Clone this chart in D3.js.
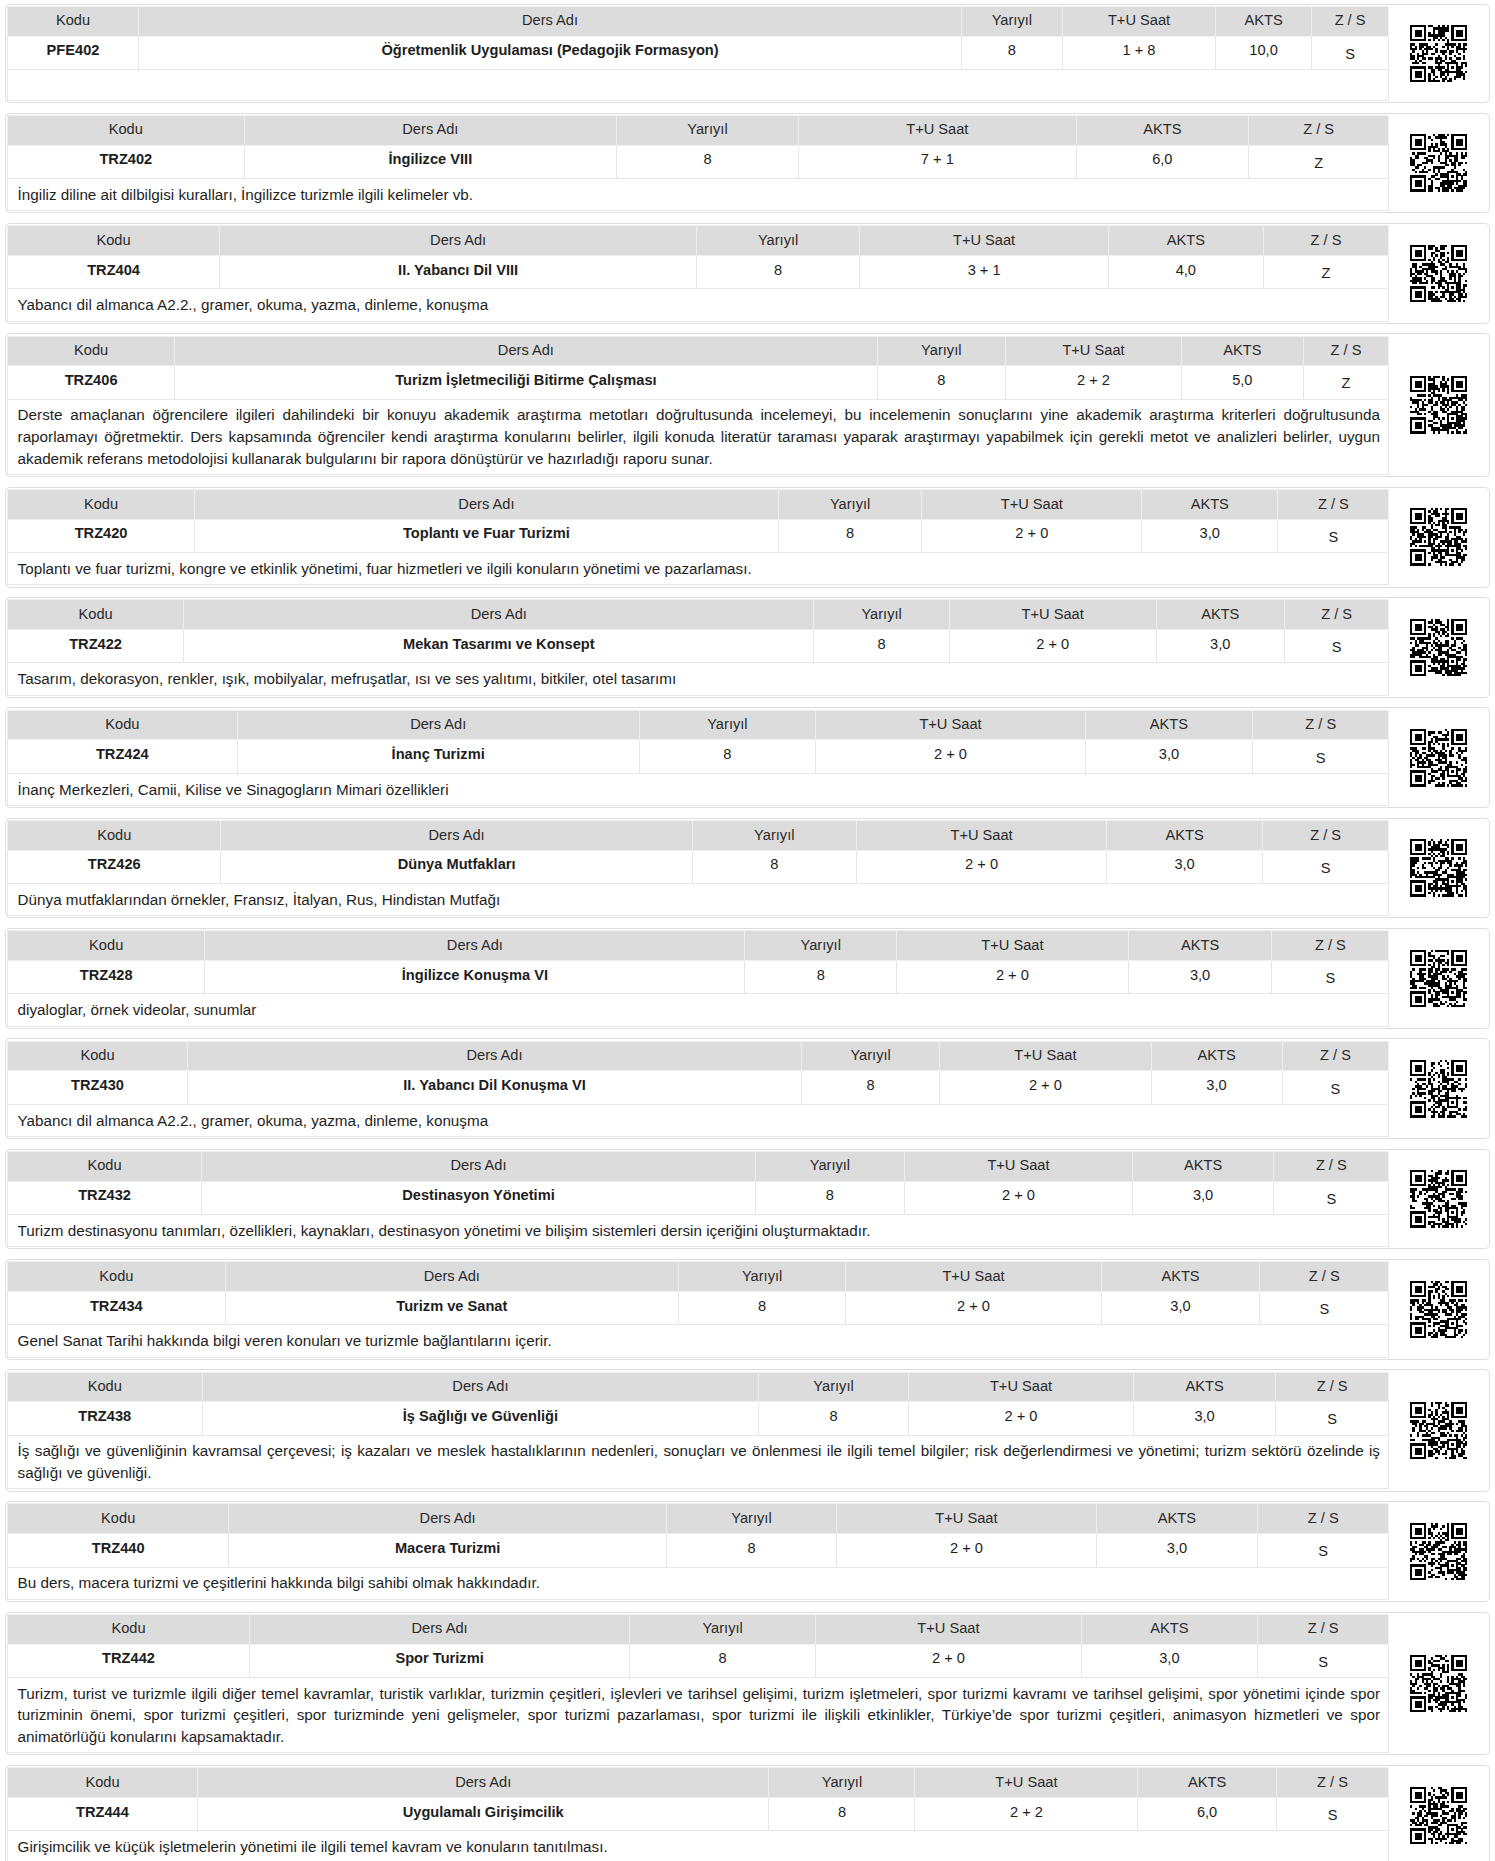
<!DOCTYPE html>
<html>
<head>
<meta charset="utf-8">
<script src="https://cdn.jsdelivr.net/npm/d3@7"></script>
<style>
html, body { margin: 0; padding: 0; background: #fff; }
body { zoom: 1.2; font-family: "Liberation Sans", Arial, sans-serif; font-size: 12.2px; color: #1e1e1e; }
#container { padding: 3px 4px 0 4px; }
.card { display: flex; border: 1px solid #dedede; border-radius: 4px; padding: 1px; margin-bottom: 8px; background: #fff; }
.card table { flex: 0 0 1152px; width: 1152px; border-collapse: collapse; }
th, td { line-height: 18px; text-align: center; border: 1px solid #e6e6e6; }
th { background: #dcdcdc; font-weight: normal; color: #2a2a2a; padding: 3px 0; border-color: #efefef; }
td { padding: 3px 0; vertical-align: top; }
td.c0, td.c1 { font-weight: bold; }
td.c5 { padding-top: 6px; }
td.desc { text-align: justify; padding: 4px 7px 4px 8px; font-size: 12.7px; }
td.empty { height: 17px; }
.qr { flex: 1; display: flex; align-items: center; justify-content: center; }
</style>
</head>
<body>
<div id="container"></div>
<script>
var headers = ["Kodu", "Ders Adı", "Yarıyıl", "T+U Saat", "AKTS", "Z / S"];

var codes = ["PFE402", "TRZ402", "TRZ404", "TRZ406", "TRZ420", "TRZ422", "TRZ424", "TRZ426",
	"TRZ428", "TRZ430", "TRZ432", "TRZ434", "TRZ438", "TRZ440", "TRZ442", "TRZ444"];

var names = ["Öğretmenlik Uygulaması (Pedagojik Formasyon)", "İngilizce VIII", "II. Yabancı Dil VIII",
	"Turizm İşletmeciliği Bitirme Çalışması", "Toplantı ve Fuar Turizmi", "Mekan Tasarımı ve Konsept",
	"İnanç Turizmi", "Dünya Mutfakları", "İngilizce Konuşma VI", "II. Yabancı Dil Konuşma VI",
	"Destinasyon Yönetimi", "Turizm ve Sanat", "İş Sağlığı ve Güvenliği", "Macera Turizmi",
	"Spor Turizmi", "Uygulamalı Girişimcilik"];

var semesters = [8, 8, 8, 8, 8, 8, 8, 8, 8, 8, 8, 8, 8, 8, 8, 8];

var hours = ["1 + 8", "7 + 1", "3 + 1", "2 + 2", "2 + 0", "2 + 0", "2 + 0", "2 + 0",
	"2 + 0", "2 + 0", "2 + 0", "2 + 0", "2 + 0", "2 + 0", "2 + 0", "2 + 2"];

var ects = ["10,0", "6,0", "4,0", "5,0", "3,0", "3,0", "3,0", "3,0",
	"3,0", "3,0", "3,0", "3,0", "3,0", "3,0", "3,0", "6,0"];

var types = ["S", "Z", "Z", "Z", "S", "S", "S", "S", "S", "S", "S", "S", "S", "S", "S", "S"];

var descs = [
	"",
	"İngiliz diline ait dilbilgisi kuralları, İngilizce turizmle ilgili kelimeler vb.",
	"Yabancı dil almanca A2.2., gramer, okuma, yazma, dinleme, konuşma",
	"Derste amaçlanan öğrencilere ilgileri dahilindeki bir konuyu akademik araştırma metotları doğrultusunda incelemeyi, bu incelemenin sonuçlarını yine akademik araştırma kriterleri doğrultusunda raporlamayı öğretmektir. Ders kapsamında öğrenciler kendi araştırma konularını belirler, ilgili konuda literatür taraması yaparak araştırmayı yapabilmek için gerekli metot ve analizleri belirler, uygun akademik referans metodolojisi kullanarak bulgularını bir rapora dönüştürür ve hazırladığı raporu sunar.",
	"Toplantı ve fuar turizmi, kongre ve etkinlik yönetimi, fuar hizmetleri ve ilgili konuların yönetimi ve pazarlaması.",
	"Tasarım, dekorasyon, renkler, ışık, mobilyalar, mefruşatlar, ısı ve ses yalıtımı, bitkiler, otel tasarımı",
	"İnanç Merkezleri, Camii, Kilise ve Sinagogların Mimari özellikleri",
	"Dünya mutfaklarından örnekler, Fransız, İtalyan, Rus, Hindistan Mutfağı",
	"diyaloglar, örnek videolar, sunumlar",
	"Yabancı dil almanca A2.2., gramer, okuma, yazma, dinleme, konuşma",
	"Turizm destinasyonu tanımları, özellikleri, kaynakları, destinasyon yönetimi ve bilişim sistemleri dersin içeriğini oluşturmaktadır.",
	"Genel Sanat Tarihi hakkında bilgi veren konuları ve turizmle bağlantılarını içerir.",
	"İş sağlığı ve güvenliğinin kavramsal çerçevesi; iş kazaları ve meslek hastalıklarının nedenleri, sonuçları ve önlenmesi ile ilgili temel bilgiler; risk değerlendirmesi ve yönetimi; turizm sektörü özelinde iş sağlığı ve güvenliği.",
	"Bu ders, macera turizmi ve çeşitlerini hakkında bilgi sahibi olmak hakkındadır.",
	"Turizm, turist ve turizmle ilgili diğer temel kavramlar, turistik varlıklar, turizmin çeşitleri, işlevleri ve tarihsel gelişimi, turizm işletmeleri, spor turizmi kavramı ve tarihsel gelişimi, spor yönetimi içinde spor turizminin önemi, spor turizmi çeşitleri, spor turizminde yeni gelişmeler, spor turizmi pazarlaması, spor turizmi ile ilişkili etkinlikler, Türkiye’de spor turizmi çeşitleri, animasyon hizmetleri ve spor animatörlüğü konularını kapsamaktadır.",
	"Girişimcilik ve küçük işletmelerin yönetimi ile ilgili temel kavram ve konuların tanıtılması."
];

var courses = codes.map(function (c, i) { //one record per card
	return { code: c, name: names[i], sem: semesters[i], hours: hours[i], ects: ects[i], type: types[i], desc: descs[i] };
});

var cards = d3.select("#container").selectAll("div.card")
	.data(courses)
  .enter().append("div")
	.attr("class", "card");

var tables = cards.append("table");

tables.append("tr").selectAll("th")
	.data(headers)
  .enter().append("th")
	.text(function (d) { return d; });

tables.append("tr").selectAll("td")
	.data(function (d) { return [d.code, d.name, d.sem, d.hours, d.ects, d.type]; })
  .enter().append("td")
	.attr("class", function (d, i) { return "c" + i; })
	.text(function (d) { return d; });

tables.append("tr").append("td")
	.attr("colspan", 6)
	.attr("class", function (d) { return d.desc ? "desc" : "desc empty"; })
	.text(function (d) { return d.desc; });

// qr code stand-in: fixed patterns plus modules derived from the course code
var n = 25, qs = 48;
var q = d3.scaleLinear().domain([0, n]).range([0, qs]);

function qrMatrix(code) {
	var m = [], seed = 7;
	for (var k = 0; k < code.length; k++) seed = (Math.imul(seed, 31) + code.charCodeAt(k)) >>> 0;
	for (var y = 0; y < n; y++) {
		m.push([]);
		for (var x = 0; x < n; x++) {
			seed = (Math.imul(seed, 1103515245) + 12345) >>> 0;
			m[y].push((seed >>> 16) & 1);
		}
	}
	function finder(ox, oy) {
		for (var y = -1; y <= 7; y++) for (var x = -1; x <= 7; x++) {
			var xx = ox + x, yy = oy + y;
			if (xx < 0 || yy < 0 || xx >= n || yy >= n) continue;
			var inside = x >= 0 && x <= 6 && y >= 0 && y <= 6;
			var on = inside && (x == 0 || x == 6 || y == 0 || y == 6 || (x >= 2 && x <= 4 && y >= 2 && y <= 4));
			m[yy][xx] = on ? 1 : 0;
		}
	}
	finder(0, 0); finder(n - 7, 0); finder(0, n - 7);
	for (var i = 8; i < n - 8; i++) { m[6][i] = i % 2 == 0 ? 1 : 0; m[i][6] = i % 2 == 0 ? 1 : 0; }
	for (var ay = -2; ay <= 2; ay++) for (var ax = -2; ax <= 2; ax++) {
		m[18 + ay][18 + ax] = Math.max(Math.abs(ax), Math.abs(ay)) != 1 ? 1 : 0;
	}
	var cells = [];
	for (var r = 0; r < n; r++) for (var c = 0; c < n; c++) if (m[r][c]) cells.push({ x: c, y: r });
	return cells;
}

cards.append("div").attr("class", "qr")
  .append("svg")
	.attr("width", qs)
	.attr("height", qs)
	.attr("shape-rendering", "crispEdges")
  .selectAll("rect")
	.data(function (d) { return qrMatrix(d.code); })
  .enter().append("rect")
	.attr("x", function (d) { return q(d.x); })
	.attr("y", function (d) { return q(d.y); })
	.attr("width", q(1) + 0.05)
	.attr("height", q(1) + 0.05)
	.attr("fill", "#000");
</script>
</body>
</html>
